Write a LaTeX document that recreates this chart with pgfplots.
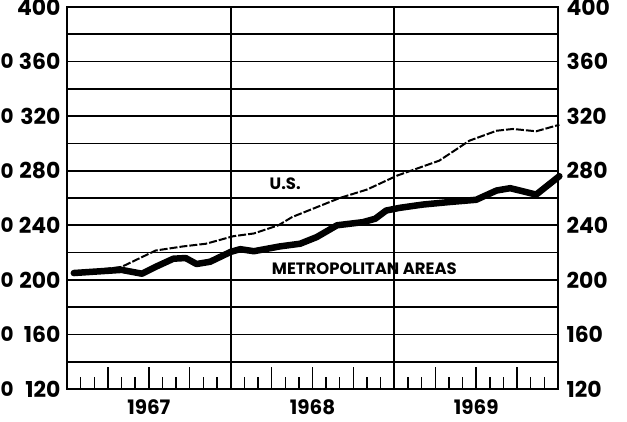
\documentclass[border=0pt]{standalone}
\usepackage{pgfplots}
\pgfplotsset{compat=1.18}
\usepackage{fontspec}
\setmainfont{Poppins}
\tikzset{stub/.style={anchor=west, inner sep=0pt, font=\bfseries\fontsize{20}{20}\selectfont}}
\begin{document}
\begin{tikzpicture}
\pgfplotsset{
  base/.style={
    scale only axis, width=491bp, height=382bp,
    xmin=0, xmax=36, ymin=120, ymax=400,
    axis line style={line width=2.6bp, black},
    ytick={120,160,...,400},
    minor ytick={140,180,...,380},
    /pgf/number format/assume math mode=true,
    xticklabel style={font=\bfseries\fontsize{20}{20}\selectfont, yshift=-7bp},
  },
}
\begin{axis}[name=ax, base,
  clip=false,
  yticklabel style={font=\bfseries\fontsize{22}{22}\selectfont, xshift=-3bp},
  ymajorgrids, yminorgrids,
  major grid style={line width=1.8bp, black},
  minor grid style={line width=1.8bp, black},
  tick align=inside,
  xtick pos=lower, ytick pos=left,
  xtick={3,6,9,15,18,21,27,30,33},
  xticklabels={,1967,,,1968,,,1969,},
  minor xtick={1,2,4,5,7,8,10,11,13,14,16,17,19,20,22,23,25,26,28,29,31,32,34,35},
  major tick length=22bp, minor tick length=12bp,
  tick style={line width=1.4bp, black},
  extra x ticks={12,24}, extra x tick labels={},
  extra x tick style={grid=major, major tick length=0pt, major grid style={line width=2bp, black}},
]
\addplot[black, line width=6.5bp, line join=round, line cap=round] coordinates {
(0.5,205) (2,206) (4,207.3) (5.5,204.5) (6.6,210) (7.8,215.5) (8.7,216)
(9.5,211.6) (10.5,213.3) (12,220.5) (12.7,222.5) (13.7,221) (15.6,224.5)
(17.1,226.5) (18.3,231.3) (19.8,240) (21.7,242.3) (22.6,244.8) (23.4,250.8)
(24.4,252.8) (26.1,255.2) (28,257) (30,258.7) (31.5,265.5) (32.5,267.2)
(34.4,262.5) (36.1,276)
};
\addplot[black, line width=2bp, dash pattern=on 8bp off 2bp] coordinates {
(0.5,205) (2,207) (4,209.5) (6.5,221.5) (8.5,224.5) (10.2,226.5) (12.2,232)
(13.7,234) (15.5,240) (16.5,246) (17.6,250.4) (20,260) (22,266.2) (24.2,276.4)
(27.3,287.4) (29.5,302) (31.5,309.3) (32.7,310.6) (34.4,308.9) (36.1,313.7)
};
\node[font=\bfseries\fontsize{16.5}{16.5}\selectfont] at (axis cs:16,270.6) {U.S.};
\node[font=\bfseries\fontsize{16.5}{16.5}\selectfont] at (axis cs:21.8,208.2) {METROPOLITAN AREAS};
\node[stub] at ([xshift=-66.5bp]axis cs:0,120) {0};
\node[stub] at ([xshift=-66.5bp]axis cs:0,160) {0};
\node[stub] at ([xshift=-66.5bp]axis cs:0,200) {0};
\node[stub] at ([xshift=-66.5bp]axis cs:0,240) {0};
\node[stub] at ([xshift=-66.5bp]axis cs:0,280) {0};
\node[stub] at ([xshift=-66.5bp]axis cs:0,320) {0};
\node[stub] at ([xshift=-66.5bp]axis cs:0,360) {0};
\end{axis}
\begin{axis}[base, hide x axis, axis y line*=right, ytick style={draw=none},
  yticklabel style={font=\bfseries\fontsize{22}{22}\selectfont, xshift=5bp}]
\end{axis}
\pgfresetboundingbox
\path[use as bounding box] ([xshift=-67bp,yshift=-33bp]ax.south west) rectangle ([xshift=69bp,yshift=7bp]ax.north east);
\end{tikzpicture}
\end{document}
